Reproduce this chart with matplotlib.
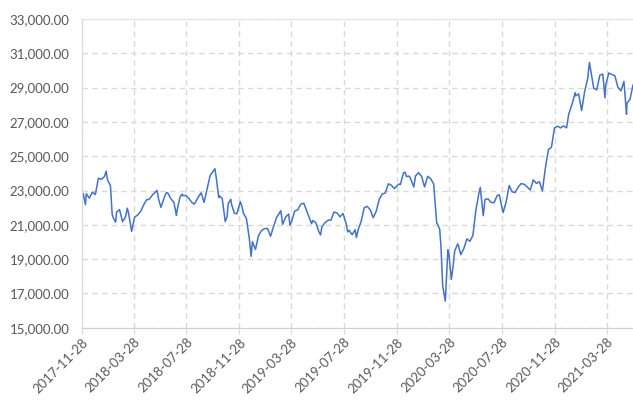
import matplotlib
matplotlib.use("Agg")
from matplotlib import pyplot as plt
import matplotlib.dates as mdates
import matplotlib.ticker as mticker
import pandas as pd

# index closes (weekly plus notable swings)
dates = [
    "2017-11-28", "2017-12-01", "2017-12-06", "2017-12-08", "2017-12-15", "2017-12-22", "2017-12-29",
    "2018-01-05", "2018-01-12", "2018-01-19", "2018-01-23", "2018-01-26", "2018-02-02", "2018-02-06",
    "2018-02-09", "2018-02-14", "2018-02-16", "2018-02-23", "2018-03-02", "2018-03-09", "2018-03-13",
    "2018-03-16", "2018-03-23", "2018-03-30", "2018-04-06", "2018-04-13", "2018-04-20", "2018-04-27",
    "2018-05-02", "2018-05-11", "2018-05-21", "2018-05-25", "2018-05-30", "2018-06-01", "2018-06-08",
    "2018-06-12", "2018-06-15", "2018-06-22", "2018-06-29", "2018-07-05", "2018-07-06", "2018-07-13",
    "2018-07-18", "2018-07-20", "2018-07-27", "2018-08-03", "2018-08-10", "2018-08-15", "2018-08-17",
    "2018-08-24", "2018-08-31", "2018-09-07", "2018-09-14", "2018-09-21", "2018-09-28", "2018-10-02",
    "2018-10-05", "2018-10-11", "2018-10-12", "2018-10-19", "2018-10-26", "2018-10-30", "2018-11-02",
    "2018-11-08", "2018-11-09", "2018-11-16", "2018-11-22", "2018-11-30", "2018-12-04", "2018-12-07",
    "2018-12-14", "2018-12-21", "2018-12-25", "2018-12-28",
    "2019-01-04", "2019-01-11", "2019-01-18", "2019-01-25", "2019-02-01", "2019-02-08", "2019-02-15",
    "2019-02-22", "2019-03-04", "2019-03-08", "2019-03-15", "2019-03-22", "2019-03-25", "2019-03-29",
    "2019-04-05", "2019-04-12", "2019-04-19", "2019-04-26", "2019-05-10", "2019-05-14", "2019-05-17",
    "2019-05-24", "2019-05-31", "2019-06-04", "2019-06-07", "2019-06-14", "2019-06-21", "2019-06-28",
    "2019-07-05", "2019-07-12", "2019-07-19", "2019-07-26", "2019-08-02", "2019-08-06", "2019-08-09",
    "2019-08-16", "2019-08-23", "2019-08-26", "2019-08-30", "2019-09-06", "2019-09-13", "2019-09-20",
    "2019-09-27", "2019-10-04", "2019-10-11", "2019-10-18", "2019-10-25", "2019-11-01", "2019-11-08",
    "2019-11-15", "2019-11-22", "2019-11-29", "2019-12-03", "2019-12-06", "2019-12-13", "2019-12-17",
    "2019-12-20", "2019-12-27", "2019-12-30",
    "2020-01-06", "2020-01-10", "2020-01-17", "2020-01-24", "2020-01-31", "2020-02-07", "2020-02-14",
    "2020-02-21", "2020-02-28", "2020-03-06", "2020-03-09", "2020-03-13", "2020-03-16", "2020-03-19",
    "2020-03-25", "2020-03-27", "2020-04-02", "2020-04-06", "2020-04-10", "2020-04-17", "2020-04-24",
    "2020-05-01", "2020-05-08", "2020-05-15", "2020-05-22", "2020-05-29", "2020-06-05", "2020-06-08",
    "2020-06-15", "2020-06-19", "2020-06-26", "2020-07-03", "2020-07-10", "2020-07-17", "2020-07-22",
    "2020-07-31", "2020-08-07", "2020-08-14", "2020-08-21", "2020-08-28", "2020-09-04", "2020-09-11",
    "2020-09-18", "2020-09-25", "2020-10-02", "2020-10-09", "2020-10-16", "2020-10-23", "2020-10-30",
    "2020-11-06", "2020-11-13", "2020-11-20", "2020-11-27", "2020-12-04", "2020-12-11", "2020-12-18",
    "2020-12-25", "2020-12-30",
    "2021-01-08", "2021-01-14", "2021-01-15", "2021-01-22", "2021-01-29", "2021-02-05", "2021-02-12",
    "2021-02-16", "2021-02-19", "2021-02-26", "2021-03-05", "2021-03-12", "2021-03-19", "2021-03-24",
    "2021-03-26", "2021-04-02", "2021-04-09", "2021-04-16", "2021-04-23", "2021-04-30", "2021-05-07",
    "2021-05-13", "2021-05-14", "2021-05-21", "2021-05-28",
]
closes = [
    22486, 22819, 22177, 22811, 22553, 22902, 22765,
    23715, 23653, 23808, 24124, 23632, 23274, 21610,
    21383, 21154, 21720, 21893, 21182, 21469, 21968,
    21676, 20617, 21454, 21568, 21778, 22163, 22467,
    22473, 22758, 23002, 22450, 22018, 22171, 22694,
    22878, 22851, 22516, 22305, 21547, 21788, 22597,
    22794, 22697, 22713, 22525, 22298, 22204, 22270,
    22601, 22865, 22307, 23094, 23870, 24120, 24270,
    23784, 22591, 22694, 22532, 21184, 21457, 22243,
    22487, 22250, 21680, 21646, 22351, 22036, 21679,
    21374, 20166, 19155, 20015,
    19561, 20360, 20666, 20773, 20788, 20333, 20900,
    21426, 21822, 21025, 21451, 21627, 20977, 21206,
    21807, 21870, 22200, 22259, 21345, 21067, 21250,
    21117, 20601, 20408, 20884, 21117, 21259, 21276,
    21746, 21686, 21467, 21658, 21087, 20585, 20685,
    20418, 20711, 20261, 20704, 21200, 21988, 22079,
    21879, 21410, 21799, 22493, 22800, 22851, 23392,
    23303, 23113, 23294, 23379, 23354, 24023, 24066,
    23816, 23837, 23657,
    23204, 23850, 24041, 23827, 23205, 23828, 23688,
    23387, 21143, 20750, 19699, 17431, 17002, 16552,
    19546, 19389, 17818, 18576, 19498, 19897, 19262,
    19619, 20179, 20037, 20388, 21877, 22863, 23178,
    21530, 22478, 22512, 22306, 22291, 22696, 22751,
    21710, 22329, 23289, 22920, 22882, 23205, 23406,
    23360, 23205, 23030, 23620, 23410, 23516, 22977,
    24325, 25385, 25527, 26644, 26751, 26652, 26763,
    26656, 27444,
    28139, 28698, 28519, 28631, 27663, 28779, 29520,
    30467, 30018, 28966, 28864, 29717, 29792, 28406,
    29176, 29854, 29768, 29683, 29020, 28813, 29358,
    27448, 28084, 28317, 29149,
]
y_ticks = list(range(15000, 33001, 2000))
x_start = "2017-11-28"
x_end = "2021-05-28"

plt.rcParams['font.family'] = ['Lato', 'DejaVu Sans']

x = pd.to_datetime(dates)
fig = plt.figure(figsize=(6.33, 4.01), dpi=100)
ax = fig.add_axes([0.1295, 0.1828, 0.8705, 0.7698])

ax.plot(x, closes, color="#4472C4", linewidth=1.1)

ax.set_xlim(pd.Timestamp(x_start), pd.Timestamp(x_end))
ax.set_ylim(y_ticks[0], y_ticks[-1])
ax.set_yticks(y_ticks)
ax.yaxis.set_major_formatter(mticker.StrMethodFormatter("{x:,.2f}"))

ax.xaxis.set_major_locator(mdates.MonthLocator(bymonth=[3, 7, 11], bymonthday=28))
ax.xaxis.set_major_formatter(mdates.DateFormatter("%Y-%m-%d"))

ax.grid(True, color="#D9D9D9", linestyle=(0, (4, 3)), linewidth=1.0)
ax.set_axisbelow(True)

ax.spines["right"].set_visible(False)
ax.spines["left"].set_color("#D9D9D9")
ax.spines["top"].set_color("#E3E3E3")
ax.spines["bottom"].set_color("#D0D0D0")

ax.tick_params(axis="y", length=0, pad=9, labelsize=9.5, labelcolor="#595959")
ax.tick_params(axis="x", length=4, color="#D9D9D9", pad=2, labelsize=9.5, labelcolor="#595959")
for lbl in ax.get_xticklabels():
    lbl.set_rotation(45)
    lbl.set_ha("right")
    lbl.set_rotation_mode("anchor")

fig.savefig("out.png", dpi=100)
